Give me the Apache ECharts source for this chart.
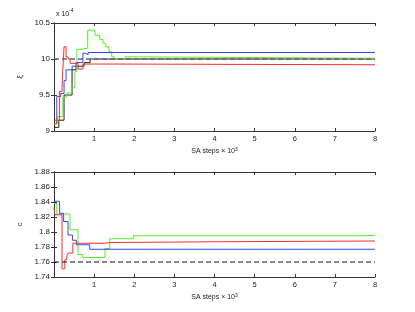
<!DOCTYPE html>
<html>
<head>
<meta charset="utf-8">
<script src="https://cdn.jsdelivr.net/npm/echarts@6/dist/echarts.min.js"></script>
<style>html,body{margin:0;padding:0;background:#fff}#c{width:415px;height:312px}</style>
</head>
<body>
<div id="c"></div>
<script>
// x in SA steps x 10^3; top panel values in units of 1e-4
var xiRed   = [[0,9.1],[0.06,9.15],[0.14,9.55],[0.2,9.6],[0.22,9.85],[0.25,10.17],[0.3,10.03],[0.35,10.0],[0.4,9.94],[0.6,9.86],[0.72,9.93],[1.4,9.92],[8,9.92]];
var xiBlue  = [[0,9.15],[0.07,9.48],[0.17,9.52],[0.25,9.7],[0.3,9.85],[0.45,9.9],[0.55,9.95],[0.72,10.08],[0.78,10.06],[0.85,10.09],[8,10.09]];
var xiGreen = [[0,9.1],[0.09,9.2],[0.22,9.47],[0.32,9.53],[0.44,9.6],[0.52,9.83],[0.57,10.13],[0.62,10.15],[0.84,10.4],[1.02,10.33],[1.14,10.27],[1.22,10.22],[1.29,10.17],[1.37,10.1],[1.44,10.03],[1.5,10.0],[1.77,10.03],[1.97,10.01],[8,10.01]];
var xiBlack = [[0,9.05],[0.12,9.15],[0.25,9.5],[0.45,9.85],[0.55,9.9],[0.75,9.95],[0.9,10.0],[8,10.0]];
var xiTrue  = 10.0;

var cRed   = [[0,1.832],[0.02,1.823],[0.2,1.751],[0.27,1.763],[0.32,1.769],[0.36,1.772],[0.47,1.785],[1.27,1.786],[1.4,1.787],[4.06,1.788],[8,1.788]];
var cBlue  = [[0,1.841],[0.14,1.825],[0.24,1.814],[0.35,1.796],[0.46,1.789],[0.56,1.783],[0.89,1.777],[8,1.777]];
var cGreen = [[0,1.838],[0.07,1.824],[0.4,1.803],[0.6,1.770],[0.72,1.766],[1.27,1.778],[1.39,1.791],[1.98,1.795],[7.6,1.7955],[8,1.7955]];
var cTrue  = 1.76;

var xTicks = [1,2,3,4,5,6,7,8];

var FONT = 'Liberation Sans';
var axisColor = '#333';
function xAx(gi, showLabels, name) {
  return {
    type:'value', gridIndex:gi, min:0, max:8, interval:1,
    axisLine:{show:true,lineStyle:{color:axisColor,width:1}},
    axisTick:{show:true,inside:true,length:3,lineStyle:{color:axisColor}},
    axisLabel:{show:showLabels,fontFamily:FONT,fontSize:7.5,color:'#222',margin:4,
      formatter:function(v){return xTicks.indexOf(v)>=0?String(v):'';}},
    splitLine:{show:false},
    name:name||'', nameLocation:'middle', nameGap:16,
    nameTextStyle:{fontFamily:FONT,fontSize:7,color:'#222',
      rich:{sup:{fontFamily:FONT,fontSize:5,color:'#222',verticalAlign:'top',padding:[0,0,4,0]}}}
  };
}
function xTop(gi){
  return {type:'value',gridIndex:gi,min:0,max:8,interval:1,position:'top',
    axisLine:{show:true,lineStyle:{color:axisColor}},
    axisTick:{show:true,inside:true,length:3,lineStyle:{color:axisColor}},
    axisLabel:{show:false},splitLine:{show:false}};
}
function yAx(gi,min,max,interval,name){
  return {type:'value',gridIndex:gi,min:min,max:max,interval:interval,
    axisLine:{show:true,lineStyle:{color:axisColor}},
    axisTick:{show:true,inside:true,length:3,lineStyle:{color:axisColor}},
    axisLabel:{fontFamily:FONT,fontSize:8,color:'#222',margin:4},
    splitLine:{show:false},
    name:name,nameLocation:'middle',nameRotate:90,nameGap:24,
    nameTextStyle:{fontFamily:FONT,fontSize:8,color:'#222'}};
}
function yRight(gi,min,max,interval){
  return {type:'value',gridIndex:gi,min:min,max:max,interval:interval,position:'right',
    axisLine:{show:true,lineStyle:{color:axisColor}},
    axisTick:{show:true,inside:true,length:3,lineStyle:{color:axisColor}},
    axisLabel:{show:false},splitLine:{show:false}};
}
function stepS(data,xi,yi,color,w){
  return {type:'line',step:'end',xAxisIndex:xi,yAxisIndex:yi,data:data,showSymbol:false,
    lineStyle:{color:color,width:w||1},animation:false,z:3};
}
function dashS(v,xi,yi,color,w){
  return {type:'line',xAxisIndex:xi,yAxisIndex:yi,data:[[0,v],[8,v]],showSymbol:false,
    lineStyle:{color:color,width:w,type:[5,3]},animation:false,z:4};
}

var chart = echarts.init(document.getElementById('c'),null,{renderer:'canvas'});
chart.setOption({
  backgroundColor:'#fff',
  animation:false,
  grid:[
    {left:54,top:23,width:321,height:108,show:false},
    {left:54,top:172,width:321,height:105,show:false}
  ],
  xAxis:[xAx(0,true,'SA steps × 10{sup|3}'),xTop(0),xAx(1,true,'SA steps × 10{sup|3}'),xTop(1)],
  yAxis:[yAx(0,9,10.5,0.5,'ξ'),yRight(0,9,10.5,0.5),yAx(1,1.74,1.88,0.02,'c'),yRight(1,1.74,1.88,0.02)],
  graphic:[
    {type:'text',left:56,top:11,style:{text:'x 10',font:'7px "Liberation Sans"',fill:'#222'}},
    {type:'text',left:69,top:8,style:{text:'-4',font:'5px "Liberation Sans"',fill:'#222'}}
  ],
  series:[
    stepS(xiBlack,0,0,'#222',1),
    stepS(xiGreen,0,0,'#55ee22',1),
    stepS(xiBlue,0,0,'#3344ff',1),
    stepS(xiRed,0,0,'#ff2a2a',1),
    dashS(xiTrue,0,0,'#666',1.5),
    stepS(cGreen,2,2,'#55ee22',1),
    stepS(cBlue,2,2,'#3344ff',1),
    stepS(cRed,2,2,'#ff2a2a',1),
    dashS(cTrue,2,2,'#111',1)
  ]
});
</script>
</body>
</html>
